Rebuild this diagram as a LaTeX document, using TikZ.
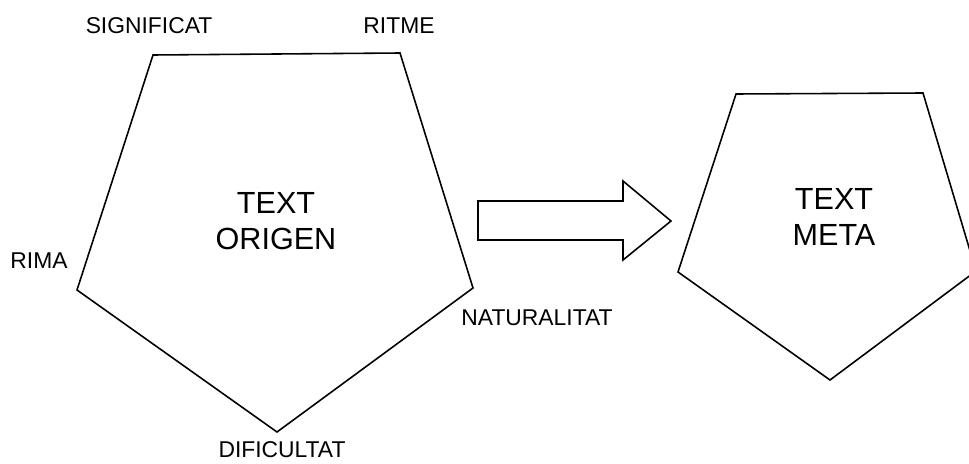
\documentclass[tikz,border=0pt]{standalone}
\usepackage{fontspec}
\setmainfont{Liberation Sans}
\usetikzlibrary{positioning}

\begin{document}
\begin{tikzpicture}[
  lbl/.style={font=\fontsize{13}{15}\selectfont, inner sep=0pt},
  big/.style={font=\fontsize{17.4}{20.5}\selectfont, align=center, inner sep=0pt},
  edge/.style={draw=black, line width=0.9pt, line join=miter},
]
  \useasboundingbox (0,0) rectangle (19.38,9.26);
  \clip (0,0) rectangle (19.38,9.26);

  % source pentagon
  \coordinate (oTL) at (3.06, 8.16);
  \coordinate (oTR) at (8.00, 8.20);
  \coordinate (oR)  at (9.46, 3.50);
  \coordinate (oB)  at (5.54, 0.62);
  \coordinate (oL)  at (1.54, 3.46);
  \draw[edge] (oTL) -- (oTR) -- (oR) -- (oB) -- (oL) -- cycle;

  % target pentagon
  \coordinate (mTL) at (14.72, 7.38);
  \coordinate (mTR) at (18.46, 7.40);
  \coordinate (mR)  at (19.52, 3.84);
  \coordinate (mB)  at (16.60, 1.66);
  \coordinate (mL)  at (13.56, 3.82);
  \draw[edge] (mTL) -- (mTR) -- (mR) -- (mB) -- (mL) -- cycle;

  % block arrow
  \draw[edge] (9.56,5.24) -- (12.46,5.24) -- (12.46,5.64) -- (13.42,4.84)
    -- (12.46,4.06) -- (12.46,4.46) -- (9.56,4.46) -- cycle;

  \node[big] (origen) at (5.52, 4.83) {TEXT\\ORIGEN};
  \node[big] (meta)   at (16.68, 4.92) {TEXT\\META};

  \node[lbl] (signif) at (2.98, 8.74) {SIGNIFICAT};
  \node[lbl] (ritme)  at (7.98, 8.74) {RITME};
  \node[lbl] (rima)   at (0.78, 4.04) {RIMA};
  \node[lbl] (natur)  at (10.74, 2.90) {NATURALITAT};
  \node[lbl] (dific)  at (5.64, 0.26) {DIFICULTAT};
\end{tikzpicture}
\end{document}
